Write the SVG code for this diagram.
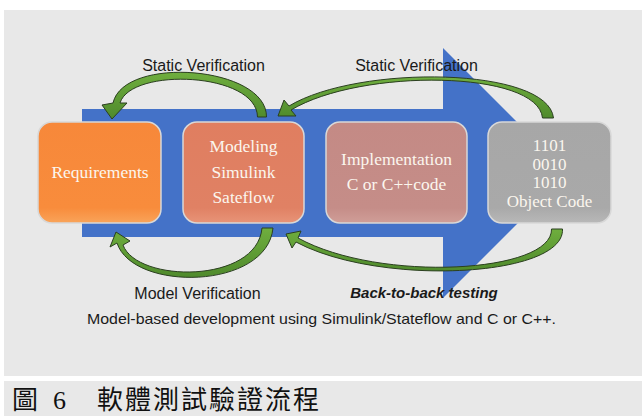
<svg xmlns="http://www.w3.org/2000/svg" width="642" height="416" viewBox="0 0 642 416">
<defs>
<style>
.lbl{font-family:"Liberation Sans",Arial,sans-serif;font-size:16px;fill:#1a1a1a;text-anchor:middle}
.box{stroke:#d8d8d8;stroke-width:1.5}
.bt{font-family:"Liberation Serif","Times New Roman",serif;font-size:17.5px;fill:#fbf6ee;text-anchor:middle}
.ca{fill:url(#gGreen);stroke:#2b3f20;stroke-width:1;stroke-linejoin:round}
</style>
<linearGradient id="gGreen" x1="0" y1="0" x2="0" y2="1">
<stop offset="0" stop-color="#6fae3e"/>
<stop offset="1" stop-color="#4f8a2c"/>
</linearGradient>
<linearGradient id="gReq" x1="0" y1="0" x2="0" y2="1">
<stop offset="0" stop-color="#f7883a"/>
<stop offset="0.85" stop-color="#f88c3c"/>
<stop offset="1" stop-color="#f9a45a"/>
</linearGradient>
<linearGradient id="gMod" x1="0" y1="0" x2="0" y2="1">
<stop offset="0" stop-color="#e07e60"/>
<stop offset="0.85" stop-color="#e08164"/>
<stop offset="1" stop-color="#e89478"/>
</linearGradient>
<linearGradient id="gImp" x1="0" y1="0" x2="0" y2="1">
<stop offset="0" stop-color="#c48a85"/>
<stop offset="0.85" stop-color="#c58d88"/>
<stop offset="1" stop-color="#d09e98"/>
</linearGradient>
<linearGradient id="gObj" x1="0" y1="0" x2="0" y2="1">
<stop offset="0" stop-color="#a7a7a7"/>
<stop offset="0.85" stop-color="#a9a9a9"/>
<stop offset="1" stop-color="#b8b8b8"/>
</linearGradient>
</defs>
<rect x="0" y="0" width="642" height="416" fill="#ffffff"/>
<rect x="4" y="10" width="638" height="366" fill="#e8e8e8"/>
<rect x="4" y="381" width="638" height="35" fill="#e8e8e8"/>

<g id="flow-arrow">
<path d="M82,109 L443,109 L443,48 L568,173 L443,298 L443,237 L82,237 Z" fill="#4472c8"/>
</g>

<g id="requirements">
<rect class="box" x="38" y="122" width="123" height="101" rx="14" fill="url(#gReq)"/>
<text class="bt" x="100" y="178">Requirements</text>
</g>
<g id="modeling">
<rect class="box" x="183" y="122" width="121" height="101" rx="14" fill="url(#gMod)"/>
<text class="bt" x="243.5" y="152">Modeling</text>
<text class="bt" x="243.5" y="177.5">Simulink</text>
<text class="bt" x="243.5" y="203">Sateflow</text>
</g>
<g id="implementation">
<rect class="box" x="326" y="122" width="141" height="101" rx="14" fill="url(#gImp)"/>
<text class="bt" x="396.5" y="165">Implementation</text>
<text class="bt" x="396.5" y="190">C or C++code</text>
</g>
<g id="object-code">
<rect class="box" x="488" y="122" width="123" height="101" rx="14" fill="url(#gObj)"/>
<text class="bt" x="549.5" y="151" style="font-size:17px">1101</text>
<text class="bt" x="549.5" y="169.5" style="font-size:17px">0010</text>
<text class="bt" x="549.5" y="188" style="font-size:17px">1010</text>
<text class="bt" x="549.5" y="206.5" style="font-size:17px">Object Code</text>
</g>

<g id="connectors">
<path class="ca" d="M266.5,117 C267,66 124,55 113,103 L102,105 L112,119 L127,103 L120,103 C131,67 257,72 257.5,117 Z"/>
<path class="ca" d="M553.5,118 C548,67 359,64 289,106 L284,100 L278,116 L296,116 L291,110 C361,68 538,70 542.5,118 Z"/>
<path class="ca" d="M273,228 C267,290 133,292 117,243 L110,247 L116,232 L130,241 L123,245 C137,283 257,284 262,228 Z"/>
<path class="ca" d="M562.5,229 C565,277 380,287 296,242 L292,248 L286,234 L301,231 L298,238 C380,283 553,273 551.5,229 Z"/>
</g>

<g id="labels">
<text class="lbl" x="203.5" y="71">Static Verification</text>
<text class="lbl" x="416.5" y="71">Static Verification</text>
<text class="lbl" x="197.5" y="299">Model Verification</text>
<text class="lbl" x="424" y="298" style="font-weight:bold;font-style:italic;font-size:15px">Back-to-back testing</text>
<text class="lbl" x="321.5" y="324" style="font-size:15px" textLength="469" lengthAdjust="spacingAndGlyphs">Model-based development using Simulink/Stateflow and C or C++.</text>
</g>

<g id="caption">
<text x="12" y="409" style="font-family:'Noto Sans CJK TC','Noto Sans CJK SC',sans-serif;font-size:26px;fill:#111">圖</text>
<text x="53" y="409" style="font-family:'Liberation Serif','Times New Roman',serif;font-size:26px;fill:#111">6</text>
<text x="97" y="409" style="font-family:'Noto Sans CJK TC','Noto Sans CJK SC',sans-serif;font-size:26px;fill:#111" textLength="222" lengthAdjust="spacing">軟體測試驗證流程</text>
</g>
</svg>
